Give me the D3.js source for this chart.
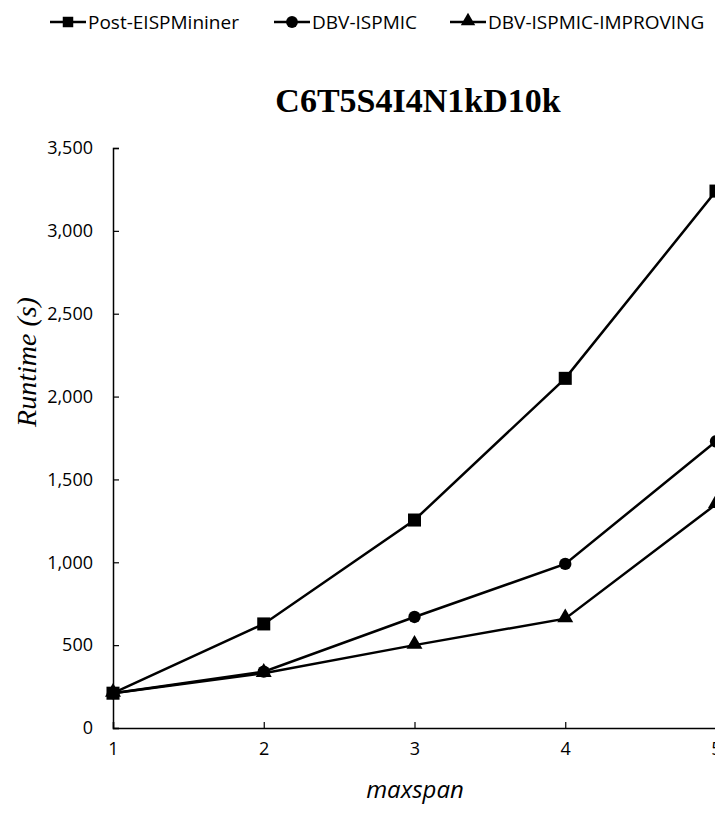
<!DOCTYPE html>
<html>
<head>
<meta charset="utf-8">
<script src="https://cdn.jsdelivr.net/npm/d3@7"></script>
<style>
  body { margin: 0; background: #fff; overflow: hidden; }
  svg { display: block; }
</style>
</head>
<body>
<div id="chart"></div>
<script>
// data
const maxspan = [1, 2, 3, 4, 5];
const postEISP = [210, 628, 1255, 2110, 3240];
const dbvIspmic = [210, 340, 670, 990, 1730];
const dbvImproving = [210, 330, 500, 660, 1350];
const yTicks = [0, 500, 1000, 1500, 2000, 2500, 3000, 3500];

const seriesList = [
  { name: "Post-EISPMininer", values: postEISP, marker: "square" },
  { name: "DBV-ISPMIC", values: dbvIspmic, marker: "circle" },
  { name: "DBV-ISPMIC-IMPROVING", values: dbvImproving, marker: "triangle" }
];

const width = 715, height = 814;
const margin = { top: 148, right: -1, bottom: 86, left: 113 };
const sans = "'Open Sans', 'Liberation Sans', sans-serif";
const serif = "'Liberation Serif', 'Times New Roman', serif";

const svg = d3.select("#chart").append("svg")
  .attr("width", width)
  .attr("height", height);

const x = d3.scaleLinear().domain([1, 5]).range([margin.left, width - margin.right]);
const y = d3.scaleLinear().domain([0, 3500]).range([height - margin.bottom, margin.top]);

const symbolFor = {
  square: d3.symbol().type(d3.symbolSquare).size(170),
  circle: d3.symbol().type(d3.symbolCircle).size(120),
  triangle: d3.symbol().type(d3.symbolTriangle).size(110)
};
const legendSymbol = {
  square: d3.symbol().type(d3.symbolSquare).size(110),
  circle: d3.symbol().type(d3.symbolCircle).size(110),
  triangle: d3.symbol().type(d3.symbolTriangle).size(90)
};

// axes
const yAxis = svg.append("g")
  .attr("transform", `translate(${margin.left},0)`)
  .call(d3.axisLeft(y).tickValues(yTicks).tickSize(-6).tickPadding(20).tickFormat(d3.format(",")));
const xAxis = svg.append("g")
  .attr("transform", `translate(0,${y(0)})`)
  .call(d3.axisBottom(x).tickValues(maxspan).tickSize(-6).tickPadding(14).tickFormat(d3.format("d")));

[yAxis, xAxis].forEach(g => {
  g.attr("font-size", 18).attr("font-family", sans);
  g.select(".domain").attr("stroke", "#000").attr("stroke-width", 1.5);
  g.selectAll(".tick line").attr("stroke", "#000").attr("stroke-width", 1.2);
  g.selectAll(".tick text")
    .attr("fill", "#000")
    .attr("font-size", 18)
    .style("font-family", sans)
    .style("font-size", "18px");
});

// lines and markers
const line = d3.line()
  .x((d, i) => x(maxspan[i]))
  .y(d => y(d));

seriesList.forEach(s => {
  svg.append("path")
    .datum(s.values)
    .attr("fill", "none")
    .attr("stroke", "#000")
    .attr("stroke-width", 2.5)
    .attr("d", line);
  svg.append("g").selectAll("path")
    .data(s.values)
    .join("path")
    .attr("d", symbolFor[s.marker])
    .attr("transform", (d, i) => `translate(${x(maxspan[i])},${y(d) + (s.marker === "triangle" ? -1 : 0)})`)
    .attr("fill", "#000");
});

// title
svg.append("text")
  .attr("x", 418)
  .attr("y", 112)
  .attr("text-anchor", "middle")
  .style("font-family", serif)
  .style("font-weight", "bold")
  .style("font-size", "34px")
  .text("C6T5S4I4N1kD10k");

// axis titles
svg.append("text")
  .attr("transform", "translate(36,362) rotate(-90)")
  .attr("text-anchor", "middle")
  .style("font-family", serif)
  .style("font-style", "italic")
  .style("font-size", "28px")
  .text("Runtime (s)");

svg.append("text")
  .attr("x", 415)
  .attr("y", 798)
  .attr("text-anchor", "middle")
  .style("font-family", sans)
  .style("font-style", "italic")
  .style("font-size", "24px")
  .text("maxspan");

// legend
const legendX = [50, 274, 450];
const legend = svg.append("g").attr("transform", "translate(0,22)");
seriesList.forEach((s, i) => {
  const g = legend.append("g").attr("transform", `translate(${legendX[i]},0)`);
  g.append("line")
    .attr("x1", 0).attr("x2", 36)
    .attr("stroke", "#000").attr("stroke-width", 2.5);
  g.append("path")
    .attr("d", legendSymbol[s.marker])
    .attr("transform", `translate(18,${s.marker === "triangle" ? -1 : 0})`)
    .attr("fill", "#000");
  g.append("text")
    .attr("x", 38)
    .attr("y", 7)
    .style("font-family", sans)
    .style("font-size", "19px")
    .text(s.name);
});
</script>
</body>
</html>
